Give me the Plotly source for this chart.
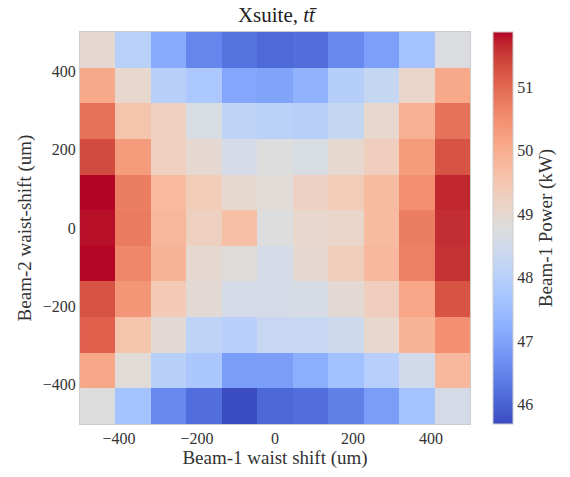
import plotly.graph_objects as go

x_centers = [-454.5, -363.6, -272.7, -181.8, -90.9, 0.0, 90.9, 181.8, 272.7, 363.6, 454.5]
y_centers_top_to_bottom = [454.5, 363.6, 272.7, 181.8, 90.9, 0.0, -90.9, -181.8, -272.7, -363.6, -454.5]

# Beam-1 power (kW), rows from top (y=+454.5) to bottom (y=-454.5)
power = [
    [48.97, 48.03, 47.14, 46.52, 46.25, 46.09, 46.17, 46.56, 46.93, 47.64, 48.72],
    [50.08, 49.03, 48.01, 47.79, 47.08, 47.02, 47.30, 47.95, 48.25, 49.09, 50.08],
    [50.88, 49.55, 49.27, 48.66, 48.13, 48.04, 48.01, 48.25, 49.03, 49.95, 50.88],
    [51.34, 50.29, 49.27, 48.97, 48.59, 48.78, 48.66, 49.00, 49.30, 50.29, 51.25],
    [51.87, 50.73, 49.77, 49.36, 49.00, 48.87, 49.21, 49.36, 49.74, 50.48, 51.68],
    [51.81, 50.76, 49.83, 49.24, 49.65, 48.78, 49.03, 49.09, 49.74, 50.73, 51.62],
    [51.86, 50.60, 49.89, 48.97, 48.84, 48.59, 48.97, 49.34, 49.80, 50.70, 51.59],
    [51.25, 50.39, 49.40, 48.93, 48.59, 48.56, 48.62, 48.93, 49.30, 50.11, 51.25],
    [51.10, 49.55, 48.93, 48.13, 47.98, 48.29, 48.29, 48.41, 49.03, 49.89, 50.48],
    [50.11, 48.87, 48.01, 47.76, 46.90, 46.90, 47.20, 47.61, 47.98, 48.50, 49.80],
    [48.78, 47.64, 46.56, 46.17, 45.69, 46.06, 46.17, 46.43, 46.90, 47.64, 48.59],
]

x_ticks = [-400, -200, 0, 200, 400]
y_ticks = [-400, -200, 0, 200, 400]
cbar_ticks = [46, 47, 48, 49, 50, 51]

coolwarm_rgb = [
    (59, 76, 192), (68, 90, 204), (77, 104, 215), (87, 117, 225), (98, 130, 234),
    (108, 142, 241), (119, 154, 247), (130, 165, 251), (141, 176, 254), (152, 185, 255),
    (163, 194, 255), (174, 201, 253), (184, 208, 249), (194, 213, 244), (204, 217, 238),
    (213, 219, 230), (221, 221, 221), (229, 216, 209), (236, 211, 197), (241, 204, 185),
    (245, 196, 173), (247, 187, 160), (247, 177, 148), (247, 166, 135), (244, 154, 123),
    (241, 141, 111), (236, 127, 99), (229, 112, 88), (222, 96, 77), (213, 80, 66),
    (203, 62, 56), (192, 40, 47), (180, 4, 38),
]
n = len(coolwarm_rgb) - 1
colorscale = [[i / n, "rgb(%d,%d,%d)" % c] for i, c in enumerate(coolwarm_rgb)]

FONT = "Liberation Serif"

fig = go.Figure(
    go.Heatmap(
        x=x_centers,
        y=y_centers_top_to_bottom,
        z=power,
        colorscale=colorscale,
        xgap=0,
        ygap=0,
        colorbar=dict(
            title=dict(text="Beam-1 Power (kW)", side="right", font=dict(size=19, family=FONT, color="#333")),
            tickvals=cbar_ticks,
            ticks="",
            tickfont=dict(size=16, family=FONT, color="#333"),
            thickness=20,
            len=1.0,
            lenmode="fraction",
            x=1.059,
            xanchor="left",
            y=0.5,
            yanchor="middle",
            outlinecolor="#cccccc",
            outlinewidth=1,
            xpad=0,
            ypad=0,
        ),
    )
)

fig.update_layout(
    width=570,
    height=477,
    margin=dict(l=80, r=99, t=32, b=47),
    paper_bgcolor="white",
    plot_bgcolor="white",
    font=dict(family=FONT, color="#333"),
    title=dict(
        text="Xsuite, <i>tt\u0304</i>",
        x=0.485,
        xanchor="center",
        y=0.985,
        yanchor="top",
        font=dict(size=21, family=FONT, color="#222"),
    ),
    xaxis=dict(
        range=[-500, 500],
        tickvals=x_ticks,
        ticks="",
        showgrid=False,
        zeroline=False,
        showline=True,
        linecolor="#cccccc",
        linewidth=1,
        mirror=True,
        tickfont=dict(size=16, family=FONT, color="#333"),
        title=dict(text="Beam-1 waist shift (um)", font=dict(size=19, family=FONT, color="#333"), standoff=4),
    ),
    yaxis=dict(
        range=[-500, 500],
        tickvals=y_ticks,
        ticks="",
        showgrid=False,
        zeroline=False,
        showline=True,
        linecolor="#cccccc",
        linewidth=1,
        mirror=True,
        tickfont=dict(size=16, family=FONT, color="#333"),
        title=dict(text="Beam-2 waist-shift (um)", font=dict(size=19, family=FONT, color="#333"), standoff=6),
    ),
)

fig.write_html("out.html")
